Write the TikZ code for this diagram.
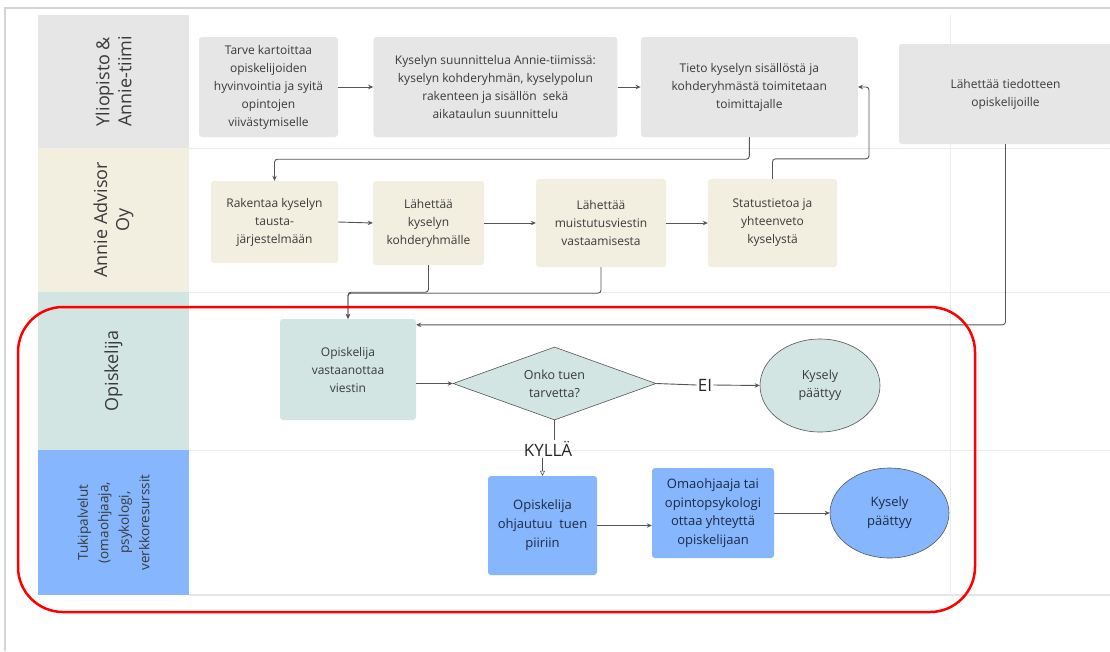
\documentclass[tikz,border=0pt]{standalone}
\usepackage{fontspec}
\setmainfont{Open Sans}
\usetikzlibrary{positioning}
\usetikzlibrary {arrows.meta}
\usetikzlibrary{shapes.geometric}
\definecolor{lanegray}{HTML}{E6E6E6}
\definecolor{lanebeige}{HTML}{F2EFE1}
\definecolor{laneteal}{HTML}{D2E5E3}
\definecolor{laneblue}{HTML}{86B6FD}
\definecolor{textgray}{HTML}{3A3A3A}
\definecolor{textblue}{HTML}{1E2A44}
\definecolor{linegray}{HTML}{555555}
\definecolor{gridgray}{HTML}{ECECEC}
\tikzset{lanehead/.style={rectangle,draw=none,rotate=90,inner sep=2pt,
align=center,font=\fontsize{18}{22}\selectfont,text=textgray}}
\tikzset{stepbox/.style={rectangle,rounded corners=3pt,draw=none,
inner sep=2pt,align=center,font=\fontsize{12}{18}\selectfont,text=textgray}}
\tikzset{endbox/.style={ellipse,draw=linegray,line width=0.6pt,
inner sep=0pt,align=center,font=\fontsize{12.5}{18}\selectfont,text=textgray}}
\tikzset{flowline/.style={line width=0.9pt,draw=linegray,rounded corners=3pt,
-{Stealth[length=5pt,width=4.5pt]}}}
\tikzset{answer/.style={inner sep=1pt,font=\fontsize{17}{20}\selectfont,text=black!85}}

\begin{document}
\begin{tikzpicture}[x=1pt,y=-1pt]
    \useasboundingbox (0,0) rectangle (1110,651);

    % frame and lane grid
    \draw[line width=1.5pt,draw=black!17] (5,651) -- (5,8) -- (1110,8);
    \foreach \ly in {148,292,450}
        \draw[line width=1pt,draw=gridgray] (189,\ly) -- (1110,\ly);
    \draw[line width=2pt,draw=black!10] (189,595) -- (1110,595);
    \draw[line width=1pt,draw=gridgray] (950,15) -- (950,595);

    % lanes
    \node[lanehead,fill=lanegray,minimum width=133pt,minimum height=151pt] (laneA) at (113.5,81.5) {Yliopisto \&\\Annie-tiimi};
    \node[lanehead,fill=lanebeige,minimum width=144pt,minimum height=151pt] (laneB) at (113.5,220) {Annie Advisor\\Oy};
    \node[lanehead,fill=laneteal,minimum width=158pt,minimum height=151pt] (laneC) at (113.5,371) {Opiskelija};
    \node[lanehead,fill=laneblue,minimum width=145pt,minimum height=151pt,
        font=\fontsize{13.5}{20.5}\selectfont] (laneD) at (113.5,522.5) {Tukipalvelut\\(omaohjaaja,\\psykologi,\\verkkoresurssit};

    % university and Annie team
    \node[stepbox,fill=lanegray,minimum width=139pt,minimum height=100pt] (boxA) at (268.5,87) {Tarve kartoittaa\\opiskelijoiden\\hyvinvointia ja syitä\\opintojen\\viivästymiselle};
    \node[stepbox,fill=lanegray,minimum width=244pt,minimum height=100pt] (boxB) [right=35pt of boxA] {Kyselyn suunnittelua Annie-tiimissä:\\kyselyn kohderyhmän, kyselypolun\\rakenteen ja sisällön~ sekä\\aikataulun suunnittelu};
    \node[stepbox,fill=lanegray,minimum width=217pt,minimum height=100pt] (boxC) [right=23pt of boxB] {Tieto kyselyn sisällöstä ja\\kohderyhmästä toimitetaan\\toimittajalle};
    \node[stepbox,fill=lanegray,minimum width=213pt,minimum height=100pt] (boxD) at (1005.5,94) {Lähettää tiedotteen\\opiskelijoille};

    % Annie Advisor
    \node[stepbox,fill=lanebeige,minimum width=127pt,minimum height=82pt] (boxE) at (274.5,222) {Rakentaa kyselyn\\tausta-\\järjestelmään};
    \node[stepbox,fill=lanebeige,minimum width=111pt,minimum height=84pt] (boxF) at (428.5,223) {Lähettää\\kyselyn\\kohderyhmälle};
    \node[stepbox,fill=lanebeige,minimum width=130pt,minimum height=88pt] (boxG) at (601,223) {Lähettää\\muistutusviestin\\vastaamisesta};
    \node[stepbox,fill=lanebeige,minimum width=129pt,minimum height=88pt] (boxH) at (772.5,223) {Statustietoa ja\\yhteenveto\\kyselystä};

    % student
    \node[stepbox,fill=laneteal,minimum width=136pt,minimum height=101pt] (boxI) at (348,369.5) {Opiskelija\\vastaanottaa\\viestin};
    \node[diamond,aspect=2.8,draw=linegray,line width=0.6pt,fill=laneteal,inner sep=0pt,
        minimum width=203pt,minimum height=73pt,align=center,
        font=\fontsize{12.5}{18}\selectfont,text=textgray] (decA) at (554.5,383.5) {Onko tuen\\tarvetta?};
    \node[endbox,fill=laneteal,minimum width=120pt,minimum height=93pt] (endA) at (820,385.5) {Kysely\\päättyy};
    \node[answer] (noA) at (705,385) {EI};

    % support services
    \node[answer] (yesA) at (548,449) {KYLLÄ};
    \node[stepbox,fill=laneblue,text=textblue,minimum width=109pt,minimum height=99pt,
        font=\fontsize{13}{19}\selectfont] (boxJ) at (542.5,525.5) {Opiskelija\\ohjautuu~ tuen\\piiriin};
    \node[stepbox,fill=laneblue,text=textblue,minimum width=122pt,minimum height=90pt,
        font=\fontsize{13}{18.5}\selectfont] (boxK) at (713,513) {Omaohjaaja tai\\opintopsykologi\\ottaa yhteyttä\\opiskelijaan};
    \node[endbox,fill=laneblue,text=textblue,minimum width=119pt,minimum height=90pt,
        font=\fontsize{13}{19}\selectfont] (endB) at (889.5,513) {Kysely\\päättyy};

    % connectors
    \draw[flowline] (boxA.east) -- (boxB.west);
    \draw[flowline] (boxB.east) -- (boxC.west);
    \draw[flowline] (boxC.south) -- ++(0,22) -| (boxE.north);
    \draw[flowline] (boxE.east) -- (boxF.west);
    \draw[flowline] (boxF.east) -- (boxG.west);
    \draw[flowline] (boxG.east) -- (boxH.west);
    \draw[flowline] (boxH.north) -- ++(0,-20) -| ([xshift=11pt]boxC.east) -- (boxC.east);
    \draw[flowline] (boxF.south) -- ++(0,27) -| (boxI.north);
    \draw[flowline] (boxG.south) -- ++(0,26) -| (boxI.north);
    \draw[flowline] (boxD.south) |- ([yshift=-6pt]boxI.north east);
    \draw[flowline] (boxI.east |- decA) -- (decA.west);
    \draw[line width=0.9pt,draw=linegray] (decA.east) -- (noA.west);
    \draw[flowline] (noA.east) -- (endA.west);
    \draw[line width=0.9pt,draw=linegray] (decA.south) -- (decA.south |- yesA.north);
    \draw[line width=0.6pt,draw=linegray,-{Triangle[open,length=5pt,width=5pt]}] (boxJ.north |- yesA.south) -- (boxJ.north);
    \draw[flowline] (boxJ.east) -- (boxJ.east -| boxK.west);
    \draw[flowline] (boxK.east) -- (endB.west);

    % highlight
    \draw[line width=2.5pt,draw=red,rounded corners=45pt] (18,307) rectangle (975,612);

\end{tikzpicture}
\end{document}
